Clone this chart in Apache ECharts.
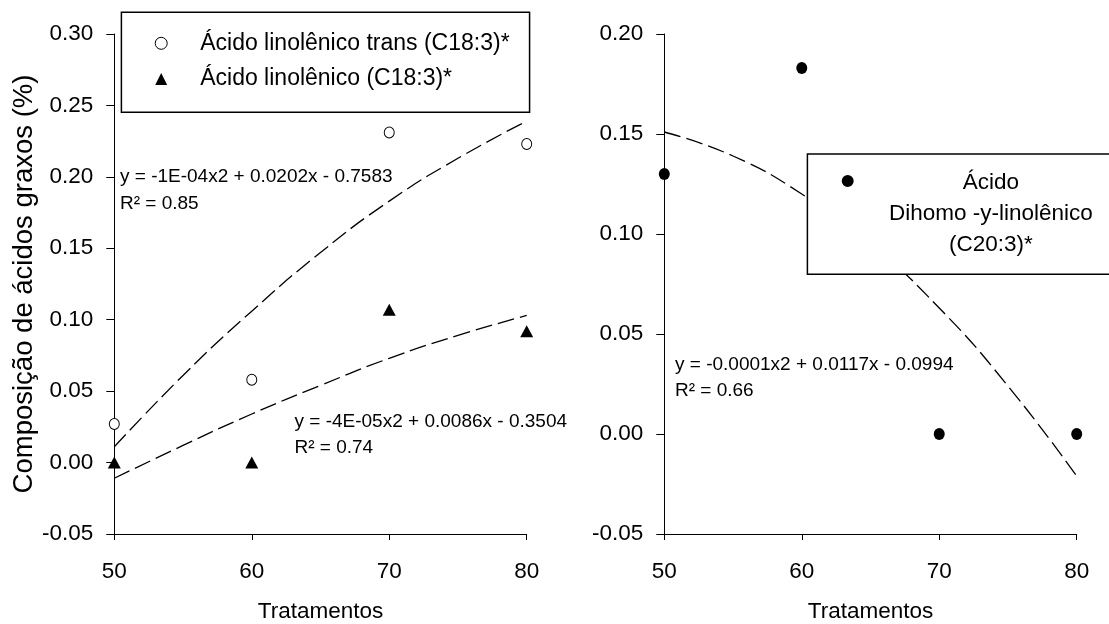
<!DOCTYPE html>
<html>
<head>
<meta charset="utf-8">
<script src="https://cdn.jsdelivr.net/npm/echarts@6/dist/echarts.min.js"></script>
<style>
html,body{margin:0;padding:0;background:#fff;}
#chart{width:1109px;height:624px;}
</style>
</head>
<body>
<div id="chart"></div>
<script>
// ---- data ----
const tratamentos = [50, 60, 70, 80];
const transC183 = [0.027, 0.058, 0.231, 0.223];      // Ácido linolênico trans (C18:3)*
const linC183 = [0.000, 0.000, 0.107, 0.092];        // Ácido linolênico (C18:3)*
const dihomoC203 = [0.130, 0.183, 0.000, 0.000];     // Ácido Dihomo -y-linolênico (C20:3)*

// dashed trend curves, read along the x range
const trendX = [50, 55, 60, 65, 70, 75, 80];
const trendTrans = [0.011, 0.061, 0.106, 0.147, 0.183, 0.213, 0.239];
const trendLin = [-0.011, 0.012, 0.034, 0.054, 0.073, 0.089, 0.103];
const trendDihomo = [0.151, 0.139, 0.120, 0.095, 0.063, 0.024, -0.021];

const leftTicksY = { min: -0.05, max: 0.30, interval: 0.05 };
const rightTicksY = { min: -0.05, max: 0.20, interval: 0.05 };
const ticksX = { min: 50, max: 80, interval: 10 };

const eqTrans = ['y = -1E-04x2 + 0.0202x - 0.7583', 'R² = 0.85'];
const eqLin = ['y = -4E-05x2 + 0.0086x - 0.3504', 'R² = 0.74'];
const eqDihomo = ['y = -0.0001x2 + 0.0117x - 0.0994', 'R² = 0.66'];

const nameTrans = 'Ácido linolênico trans (C18:3)*';
const nameLin = 'Ácido linolênico (C18:3)*';
const nameDihomo = 'Ácido Dihomo -y-linolênico (C20:3)*';
const dihomoLines = ['Ácido', 'Dihomo -y-linolênico', '(C20:3)*'];

// ---- rendering ----
const FONT = "'Liberation Sans',Arial,sans-serif";
const pairs = (xs, ys) => xs.map((x, i) => [x, ys[i]]);

function xAxisFor(gi) {
  return {
    type: 'value', gridIndex: gi, min: ticksX.min, max: ticksX.max, interval: ticksX.interval,
    name: 'Tratamentos', nameLocation: 'middle', nameGap: 66,
    nameTextStyle: { fontFamily: FONT, fontSize: 22.5, color: '#000' },
    axisLine: { show: true, onZero: false, lineStyle: { color: '#000', width: 1 } },
    axisTick: { show: true, length: 6, lineStyle: { color: '#000', width: 1 } },
    axisLabel: { fontFamily: FONT, fontSize: 22.5, color: '#000', margin: 26 },
    splitLine: { show: false }
  };
}
function yAxisFor(gi, t, name) {
  return {
    type: 'value', gridIndex: gi, min: t.min, max: t.max, interval: t.interval,
    name: name || '', nameLocation: 'middle', nameGap: 72,
    nameTextStyle: { fontFamily: FONT, fontSize: 27.5, color: '#000' },
    axisLine: { show: true, onZero: false, lineStyle: { color: '#000', width: 1 } },
    axisTick: { show: true, length: 8, lineStyle: { color: '#000', width: 1 } },
    axisLabel: { fontFamily: FONT, fontSize: 22.5, color: '#000', margin: 21,
      formatter: v => (Math.abs(v) < 1e-9 ? 0 : v).toFixed(2) },
    splitLine: { show: false }
  };
}
const dashed = { color: '#000', width: 1.3, type: [17, 6] };

function eqText(lines, x, top, lh) {
  return {
    type: 'text', left: x, top: top, z: 10,
    style: { text: lines.join('\n'), fill: '#000', font: '19px ' + FONT, lineHeight: lh }
  };
}

const chart = echarts.init(document.getElementById('chart'), null, { renderer: 'canvas' });
chart.setOption({
  animation: false,
  backgroundColor: '#fff',
  grid: [
    { left: 114.3, top: 34, width: 412.4, height: 500, outerBoundsMode: 'none', containLabel: false },
    { left: 664.3, top: 34, width: 412.4, height: 500, outerBoundsMode: 'none', containLabel: false }
  ],
  xAxis: [xAxisFor(0), xAxisFor(1)],
  yAxis: [yAxisFor(0, leftTicksY, 'Composição de ácidos graxos (%)'), yAxisFor(1, rightTicksY)],
  legend: [
    {
      data: [nameTrans, nameLin], orient: 'vertical', left: 121.4, top: 12.3,
      padding: [19.5, 20, 21.8, 33.3], itemGap: 12.7, itemWidth: 12, itemHeight: 12,
      backgroundColor: '#fff', borderColor: '#000', borderWidth: 1.5, borderRadius: 0,
      selectedMode: false, itemStyle: { borderWidth: 1 },
      textStyle: { fontFamily: FONT, fontSize: 23, color: '#000', padding: [0, 0, 0, 28] }
    },
    {
      data: [{ name: nameDihomo, icon: 'path://M0,6 A6,6 0 1,1 12,6 A6,6 0 1,1 0,6 Z M6,77 L6.01,77 Z' }],
      orient: 'vertical', left: 807.4, top: 154,
      padding: [17, 60, 18.3, 34.3], itemWidth: 12, itemHeight: 77,
      backgroundColor: '#fff', borderColor: '#000', borderWidth: 1.5, borderRadius: 0,
      selectedMode: false, itemStyle: { borderWidth: 0 },
      formatter: () => dihomoLines.map(s => '{c|' + s + '}').join('\n'),
      textStyle: {
        fontFamily: FONT, fontSize: 22.5, color: '#000', padding: [0, 0, 0, 30.3],
        rich: { c: { align: 'center', fontFamily: FONT, fontSize: 22.5, lineHeight: 31, color: '#000' } }
      }
    }
  ],
  series: [
    { name: 'trendTrans', type: 'line', xAxisIndex: 0, yAxisIndex: 0, data: pairs(trendX, trendTrans),
      smooth: true, showSymbol: false, lineStyle: dashed, silent: true, z: 1 },
    { name: 'trendLin', type: 'line', xAxisIndex: 0, yAxisIndex: 0, data: pairs(trendX, trendLin),
      smooth: true, showSymbol: false, lineStyle: dashed, silent: true, z: 1 },
    { name: 'trendDihomo', type: 'line', xAxisIndex: 1, yAxisIndex: 1, data: pairs(trendX, trendDihomo),
      smooth: true, showSymbol: false, lineStyle: dashed, silent: true, z: 1 },
    { name: nameTrans, type: 'scatter', xAxisIndex: 0, yAxisIndex: 0, data: pairs(tratamentos, transC183),
      symbol: 'circle', symbolSize: [10, 11],
      itemStyle: { color: '#fff', borderColor: '#000', borderWidth: 1, opacity: 1 }, z: 3 },
    { name: nameLin, type: 'scatter', xAxisIndex: 0, yAxisIndex: 0, data: pairs(tratamentos, linC183),
      symbol: 'triangle', symbolSize: [13, 12], itemStyle: { color: '#000', opacity: 1 }, z: 3 },
    { name: nameDihomo, type: 'scatter', xAxisIndex: 1, yAxisIndex: 1, data: pairs(tratamentos, dihomoC203),
      symbol: 'circle', symbolSize: [11, 12], itemStyle: { color: '#000', opacity: 1 }, z: 3 }
  ],
  graphic: [
    eqText(eqTrans, 120, 163, 27),
    eqText(eqLin, 294.5, 408, 26.7),
    eqText(eqDihomo, 675, 351, 26.7)
  ]
});
</script>
</body>
</html>
